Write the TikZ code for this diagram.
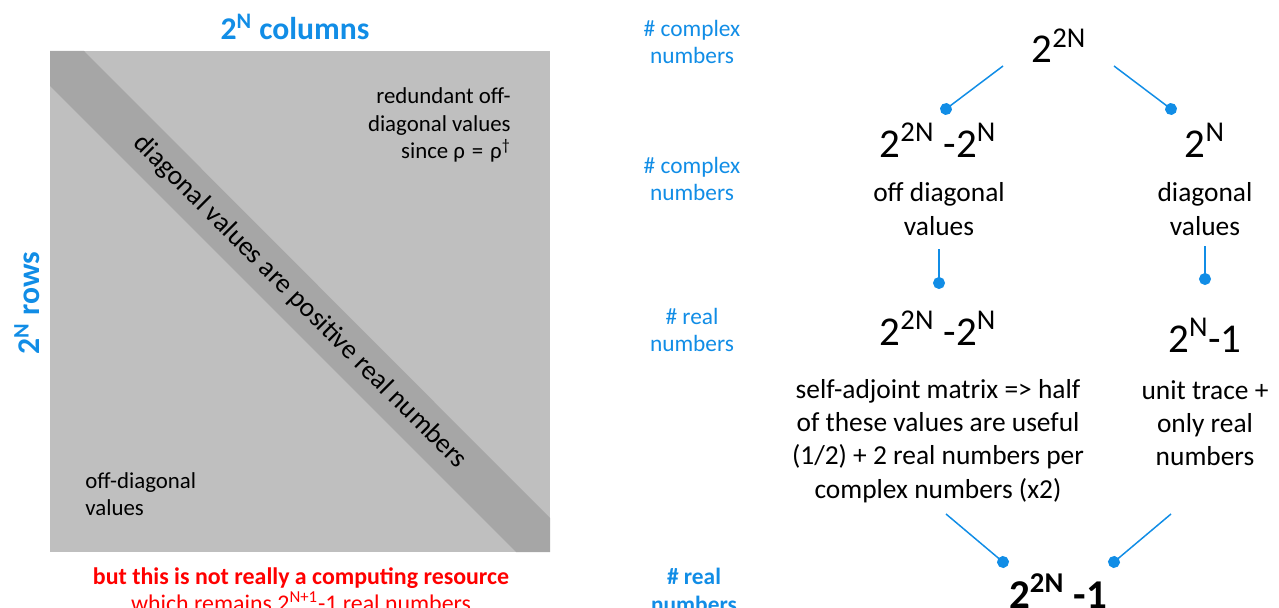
\documentclass[tikz,border=0pt]{standalone}
\usepackage{fontspec}
\setmainfont{Carlito}
\usepackage{xcolor}
\usepackage{tikz}
\usetikzlibrary{arrows.meta}

\definecolor{qblue}{RGB}{17,141,230}
\definecolor{cellgray}{RGB}{191,191,191}
\definecolor{bandgray}{RGB}{166,166,166}

\begin{document}
\begin{tikzpicture}[x=0.02cm, y=-0.02cm,
  axis/.style={text=qblue, font=\fontsize{18}{21.6}\selectfont\bfseries, inner sep=0pt},
  cell/.style={font=\fontsize{13}{15.6}\selectfont, inner sep=0pt},
  lbl/.style={text=qblue, align=center, inner sep=0pt, font=\fontsize{13.3}{15.9}\selectfont},
  num/.style={font=\fontsize{23.3}{28}\selectfont, inner sep=0pt, anchor=base},
  desc/.style={align=center, inner sep=0pt, font=\fontsize{15.6}{18.9}\selectfont},
  link/.style={draw=qblue, line width=0.85pt, -{Circle[length=6.8pt]}, shorten >=-3.4pt}]
\useasboundingbox (0,0) rectangle (1279,608);
% density matrix
\fill[cellgray] (50,51) rectangle (550,552);
\fill[bandgray] (50,51) -- (84,51) -- (550,518) -- (550,552) -- (516,552) -- (50,86) -- cycle;
\node[axis] (cols) at (295,27) {2\textsuperscript{N} columns};
\node[axis, rotate=90] (rows) at (27,303) {2\textsuperscript{N} rows};
\node[cell, font=\fontsize{15.6}{18.9}\selectfont, rotate=-45] (diag) at (300,302) {diagonal values are positive real numbers};
\node[cell, align=right, anchor=east] (upper) at (511,125) {redundant off-\\diagonal values\\since ρ\hspace{0.3em}=\hspace{0.3em}ρ\textsuperscript{†}};
\node[cell, align=left, anchor=west] (lower) at (85,494) {off-diagonal\\values};
\node[align=center, text=red, inner sep=0pt, font=\fontsize{13.6}{15.3}\selectfont] (note) at (301,590)
  {\textbf{but this is not really a computing resource}\\which remains 2\textsuperscript{N+1}-1 real numbers};
% row labels
\node[lbl] (l1) at (692,42) {\# complex\\numbers};
\node[lbl] (l2) at (692,179) {\# complex\\numbers};
\node[lbl] (l3) at (692,330) {\# real\\numbers};
\node[lbl, font=\fontsize{13.3}{15.9}\selectfont\bfseries] (l4) at (694,590) {\# real\\numbers};
% counting tree
\node[num] (whole) at (1059,63) {2\textsuperscript{2N}};
\node[num] (offcplx) at (938,157) {2\textsuperscript{2N} -2\textsuperscript{N}};
\node[num] (diagcplx) at (1205,157) {2\textsuperscript{N}};
\node[desc] (offtxt) at (939,209) {off diagonal\\values};
\node[desc] (diagtxt) at (1205,209) {diagonal\\values};
\node[num] (offreal) at (938,345) {2\textsuperscript{2N} -2\textsuperscript{N}};
\node[num] (diagreal) at (1205,352) {2\textsuperscript{N}-1};
\node[desc] (selftxt) at (938,441) {self-adjoint matrix => half\\of these values are useful\\(1/2) + 2 real numbers per\\complex numbers (x2)};
\node[desc] (unittxt) at (1205,423) {unit trace +\\only real\\numbers};
\node[num, font=\fontsize{23.3}{28}\selectfont\bfseries] (total) at (1058,608) {2\textsuperscript{2N} -1};
\draw[link] ([shift={(-56,3)}]whole.base) -- ([shift={(8,-48)}]offcplx.base);
\draw[link] ([shift={(55,3)}]whole.base) -- ([shift={(-34,-48)}]diagcplx.base);
\draw[link] ([shift={(0,40)}]offtxt.center) -- ([shift={(1,-62)}]offreal.base);
\draw[link] ([shift={(0,37)}]diagtxt.center) -- ([shift={(0,-73)}]diagreal.base);
\draw[link] ([shift={(8,73)}]selftxt.center) -- ([shift={(-55,-46)}]total.base);
\draw[link] ([shift={(-34,91)}]unittxt.center) -- ([shift={(56,-46)}]total.base);
\end{tikzpicture}
\end{document}
